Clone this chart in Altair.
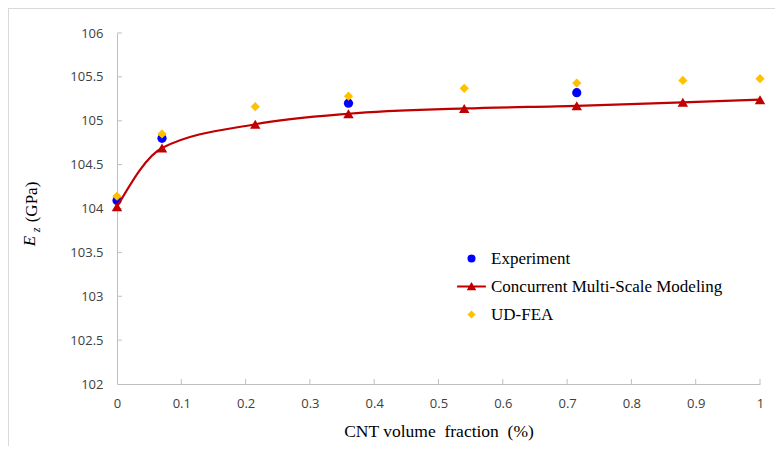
import altair as alt
import pandas as pd

# ---- data ----
cmsm_x = [0.0, 0.07, 0.215, 0.36, 0.54, 0.715, 0.88, 1.0]
cmsm_y = [104.02, 104.69, 104.96, 105.08, 105.14, 105.17, 105.21, 105.24]
fea_x = [0.0, 0.07, 0.215, 0.36, 0.54, 0.715, 0.88, 1.0]
fea_y = [104.14, 104.85, 105.16, 105.28, 105.37, 105.43, 105.46, 105.48]
exp_x = [0.0, 0.07, 0.36, 0.715]
exp_y = [104.09, 104.80, 105.20, 105.32]

series_names = ["Experiment", "Concurrent Multi-Scale Modeling", "UD-FEA"]
series_colors = ["#0000FF", "#C00000", "#FFC000"]
x_ticks = [round(i * 0.1, 1) for i in range(11)]
y_ticks = [102, 102.5, 103, 103.5, 104, 104.5, 105, 105.5, 106]

W, H = 643, 351

cmsm = pd.DataFrame({"x": cmsm_x, "y": cmsm_y, "series": series_names[1]})
fea = pd.DataFrame({"x": fea_x, "y": fea_y, "series": series_names[2]})
exp = pd.DataFrame({"x": exp_x, "y": exp_y, "series": series_names[0]})

xscale = alt.Scale(domain=[0, 1], nice=False, zero=False)
yscale = alt.Scale(domain=[102, 106], nice=False, zero=False)

line_path = "M-3.6,-0.22H3.6V0.22H-3.6Z M0,-1.15L1.2,0.95H-1.2Z"

legend = alt.Legend(
    title=None, orient="none", legendX=346, legendY=217,
    labelFont="Liberation Serif", labelFontSize=17, labelColor="#000000",
    symbolSize=64, rowPadding=10, padding=0, labelOffset=11, labelLimit=500,
    symbolStrokeWidth=0, symbolOpacity=1,
)
color = alt.Color("series:N", scale=alt.Scale(domain=series_names, range=series_colors),
                  legend=legend)
shape = alt.Shape("series:N", scale=alt.Scale(domain=series_names,
                                              range=["circle", line_path, "diamond"]),
                  legend=legend)

x_axis = alt.Axis(values=x_ticks, ticks=False, grid=False, domainColor="#BFBFBF",
                  labelFont="Open Sans", labelFontSize=13, labelColor="#404040",
                  labelExpr="'' + datum.value",
                  labelPadding=13, title="CNT volume\u00a0\u00a0fraction\u00a0\u00a0(%)",
                  titleFont="Liberation Serif", titleFontSize=17.5, titleFontWeight="normal",
                  titleColor="#000000", titlePadding=12, labelFlush=False)
y_axis = alt.Axis(values=y_ticks, ticks=False, grid=False, domainColor="#BFBFBF",
                  labelFont="Open Sans", labelFontSize=13, labelColor="#404040",
                  labelExpr="'' + datum.value",
                  labelPadding=14, title=None, labelFlush=False)

base_x = alt.X("x:Q", scale=xscale, axis=x_axis)
base_y = alt.Y("y:Q", scale=yscale, axis=y_axis)

circ = alt.Chart(exp).mark_point(filled=True, size=85, opacity=1).encode(
    x=base_x, y=base_y, color=color, shape=shape)
dia = alt.Chart(fea).mark_point(filled=True, size=85, opacity=1).encode(
    x="x:Q", y="y:Q", color=color, shape=shape)
line = alt.Chart(cmsm).mark_line(strokeWidth=2.2, interpolate="monotone", color="#C00000").encode(
    x="x:Q", y="y:Q")
tri = alt.Chart(cmsm).mark_point(shape="triangle-up", filled=True, size=110, opacity=1,
                                 color="#C00000").encode(x="x:Q", y="y:Q")

# inner tick marks
xt = alt.Chart(pd.DataFrame({"x": x_ticks[1:]})).mark_rule(color="#BFBFBF", strokeWidth=1).encode(
    x="x:Q", y=alt.value(H), y2=alt.value(H - 5))
yt = alt.Chart(pd.DataFrame({"y": y_ticks[1:]})).mark_rule(color="#BFBFBF", strokeWidth=1).encode(
    y="y:Q", x=alt.value(0), x2=alt.value(5))

# y-axis title "E_z (GPa)"
t_E = alt.Chart(pd.DataFrame({"a": [0]})).mark_text(
    text="E", font="Liberation Serif", fontStyle="italic", fontSize=17, angle=270,
    align="center", baseline="middle", color="#000000").encode(x=alt.value(-87), y=alt.value(208))
t_z = alt.Chart(pd.DataFrame({"a": [0]})).mark_text(
    text="z", font="Liberation Serif", fontStyle="italic", fontSize=12, angle=270,
    align="center", baseline="middle", color="#000000").encode(x=alt.value(-81), y=alt.value(197))
t_g = alt.Chart(pd.DataFrame({"a": [0]})).mark_text(
    text="(GPa)", font="Liberation Serif", fontSize=17, angle=270,
    align="center", baseline="middle", color="#000000").encode(x=alt.value(-85), y=alt.value(169))

# outer frame lines (light gray)
frame_top = alt.Chart(pd.DataFrame({"a": [0]})).mark_rule(color="#D9D9D9", strokeWidth=1).encode(
    x=alt.value(-109), x2=alt.value(W + 15), y=alt.value(-24.5))
frame_left = alt.Chart(pd.DataFrame({"a": [0]})).mark_rule(color="#D9D9D9", strokeWidth=1).encode(
    x=alt.value(-108.5), y=alt.value(-25), y2=alt.value(H + 62))

chart = alt.layer(
    circ, dia, frame_top, frame_left, xt, yt, line, tri, t_E, t_z, t_g
).properties(
    width=W, height=H,
    autosize=alt.AutoSizeParams(type="none"),
    padding={"left": 109, "top": 25, "right": 15, "bottom": 62},
).configure_view(stroke=None)

chart.save("out.html", embed_options={"renderer": "svg", "actions": False})
